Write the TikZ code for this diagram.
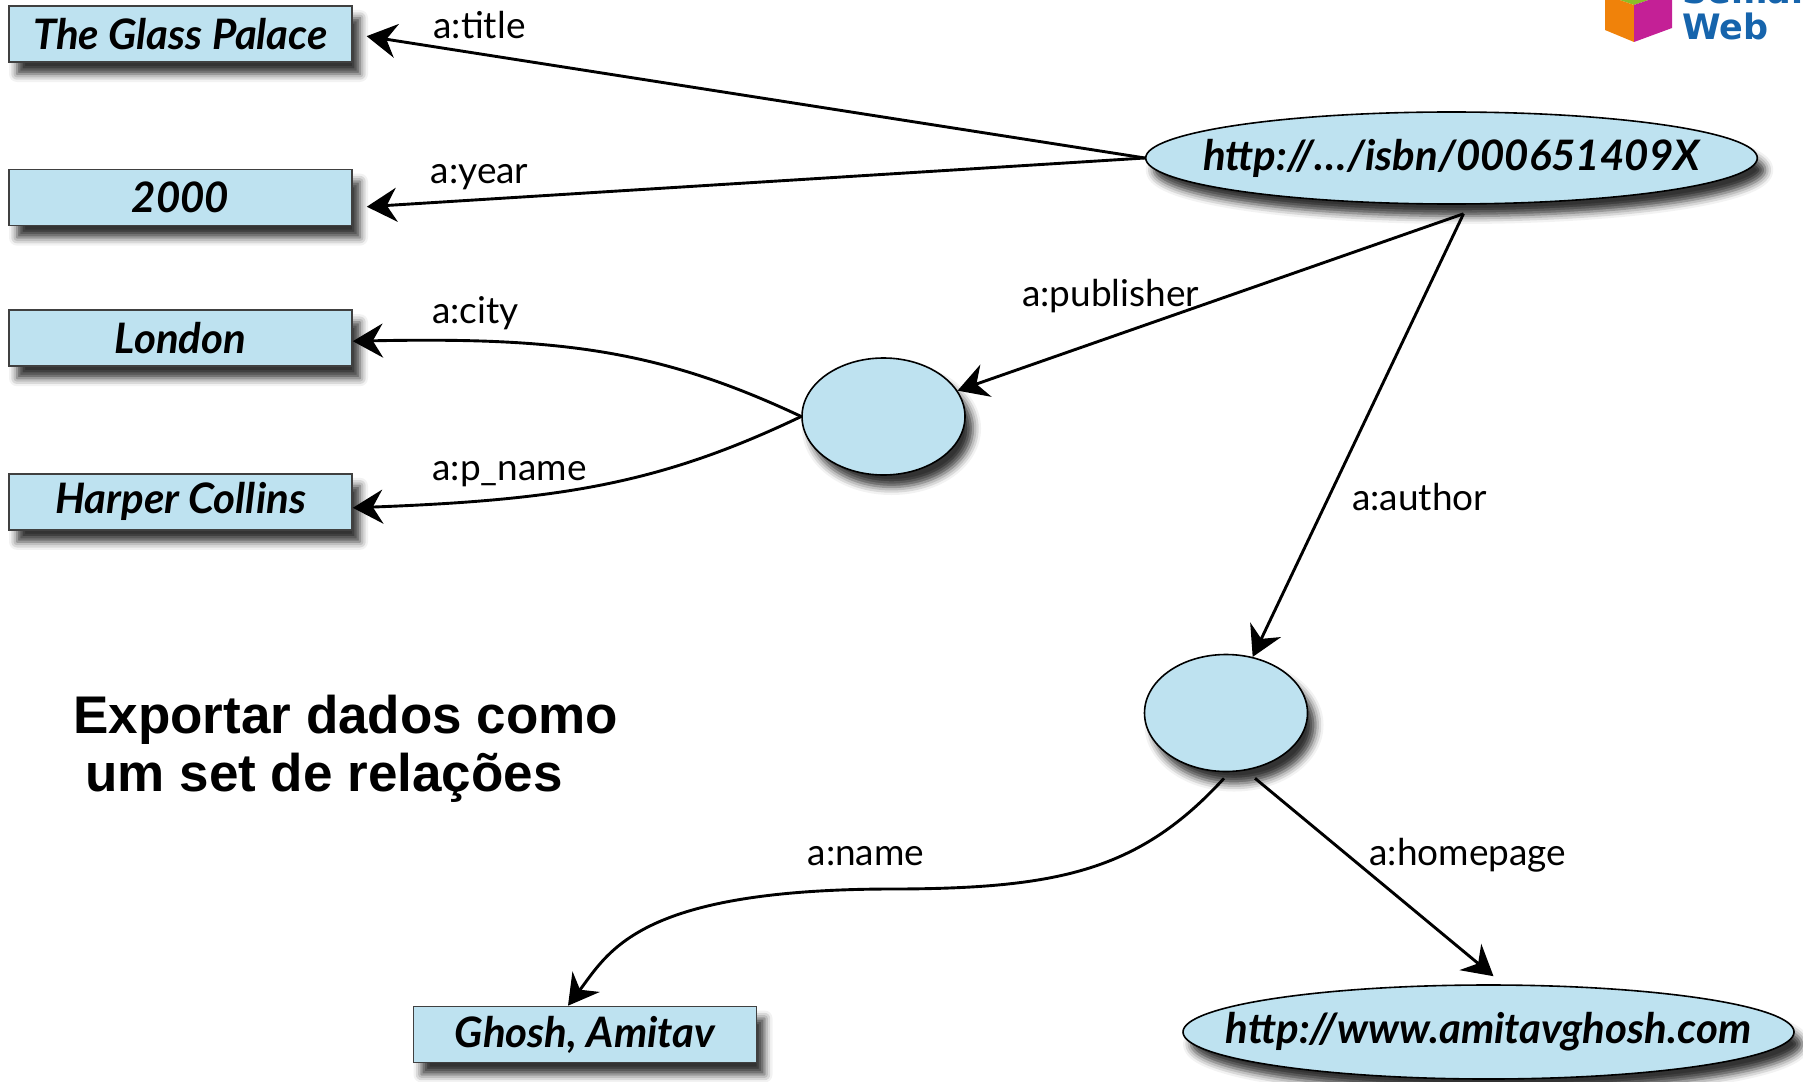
\documentclass[tikz,border=0pt]{standalone}
\usepackage{fontspec}
\setmainfont{Lato}
\newfontfamily\headfont{Liberation Sans}
\newfontfamily\logofont{DejaVu Sans}
\usetikzlibrary{shapes.geometric, arrows.meta, positioning, calc, shadows.blur}
\definecolor{nodeblue}{RGB}{190,226,240}
\definecolor{logoblue}{RGB}{22,100,172}
\definecolor{logoorange}{RGB}{240,130,10}
\definecolor{logomagenta}{RGB}{196,32,150}
\definecolor{logogreen}{RGB}{140,190,40}

\begin{document}
\begin{tikzpicture}[
    x=0.5pt, y=-0.5pt,
    node distance=53pt and 20pt,
    box_shadow/.style={blur shadow={shadow xshift=4pt, shadow yshift=-6pt, shadow blur radius=4pt, shadow opacity=80}},
    lit_box/.style={rectangle, draw=black!75, line width=0.8pt, fill=nodeblue, minimum width=171.5pt, minimum height=28pt, inner sep=0pt, font=\fontsize{21}{23}\selectfont\bfseries\itshape, box_shadow},
    uri_box/.style={ellipse, draw, line width=0.8pt, fill=nodeblue, minimum width=305.5pt, minimum height=46pt, inner ysep=0pt, font=\fontsize{21}{23}\selectfont\bfseries\itshape, box_shadow},
    blank_node/.style={ellipse, draw, line width=0.8pt, fill=nodeblue, minimum width=81.5pt, minimum height=58.5pt, inner sep=0pt, box_shadow},
    rel/.style={-{Stealth[length=15pt, width=17pt, inset=5pt]}, line width=1.45pt},
    rel_label/.style={font=\fontsize{18.5}{20}\selectfont, inner sep=2pt}
]
    \useasboundingbox (0,0) rectangle (1803,1081);

    % Literal values
    \node[lit_box] (title) at (180.5,34) {The Glass Palace};
    \node[lit_box, below=of title] (year) {2000};
    \node[lit_box, below=of year, yshift=11.5pt] (city) {London};
    \node[lit_box, below=of city] (pname) {Harper Collins};
    \node[lit_box] (ghosh) at (585,1034.5) {Ghosh, Amitav};

    % Resources
    \node[uri_box, inner xsep=-16pt] (isbn) at (1451.5,158) {http://…/isbn/000651409X};
    \node[blank_node] (pub) at (883.5,416.5) {};
    \node[blank_node] (auth) at (1226,713) {};
    \node[uri_box, inner xsep=-30pt, minimum height=47pt] (home) at (1488.5,1032) {http://www.amitavghosh.com};

    % Relations
    \draw[rel, shorten >=7pt] (isbn.west) -- node[rel_label, pos=0.84, above=5pt] {a:title} (title.east);
    \draw[rel, shorten >=7pt] (isbn.west) -- node[rel_label, pos=0.84, above=2pt] {a:year} ($(year.east)+(0,10)$);
    \draw[rel] ($(isbn.south)+(12,9)$) -- node[rel_label, pos=0.5, above left, yshift=-8pt, xshift=-3pt] {a:publisher} (pub);
    \draw[rel] ($(isbn.south)+(12,9)$) -- node[rel_label, pos=0.64, right=9pt] {a:author} (auth);
    \draw[rel] (pub.west) .. controls (660,350) and (560,337) .. ($(city.east)+(0,3)$) node[rel_label, pos=0.78, above=3pt] {a:city};
    \draw[rel] (pub.west) .. controls (660,484) and (560,500) .. ($(pname.east)+(0,6)$) node[rel_label, pos=0.71, above=3pt] {a:p\_name};
    \draw[rel] ($(auth.south)+(-2,6)$) .. controls (1140,870) and (1060,888) .. (900,889) node[rel_label, above=9pt, xshift=-17pt] {a:name}
        .. controls (640,888) and (610,950) .. ($(ghosh.north)+(-17,0)$);
    \draw[rel] ($(auth.south)+(29,6)$) -- node[rel_label, pos=0.39, right=8pt] {a:homepage} ($(home.north)+(5,-8)$);

    % Caption
    \node[anchor=north west, align=left, inner sep=0pt, font=\headfont\bfseries\fontsize{26.5}{29}\selectfont] (caption) at (73,695)
        {Exportar dados como\\\hspace*{6pt}um set de relações};

    % Logo (cut by the page edge)
    \begin{scope}
        \clip (0,0) rectangle (1803,1081);
        \fill[logogreen] (1605,-5) -- (1634,5) -- (1672,-8) -- (1642,-18) -- cycle;
        \fill[logoorange] (1605,-5) -- (1605,30) -- (1634,42) -- (1634,5) -- cycle;
        \fill[logomagenta] (1634,5) -- (1634,42) -- (1672,28) -- (1672,-8) -- cycle;
        \node[anchor=base west, inner sep=0pt, text=logoblue, font=\logofont\bfseries\fontsize{17.5}{18}\selectfont] (logoweb) at (1682,40) {Web};
        \node[anchor=base west, inner sep=0pt, text=logoblue, font=\logofont\bfseries\fontsize{17.5}{18}\selectfont] (logosem) at (1682,4) {Semantic};
    \end{scope}
\end{tikzpicture}
\end{document}
